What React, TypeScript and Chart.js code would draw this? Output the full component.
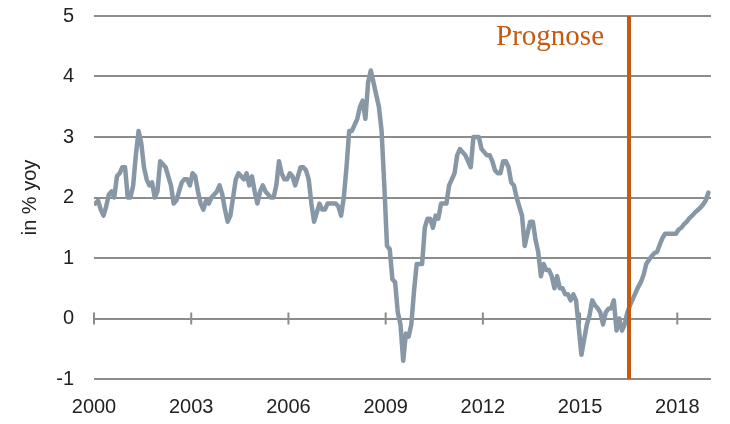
import { useEffect, useRef } from "react";
import { Chart, registerables } from "chart.js";

Chart.register(...registerables);

// Monthly inflation, in % yoy, Jan 2000 .. Dec 2018 (forecast from mid-2016)
const START_YEAR = 2000;
const inflation2000s = [
  1.9, 1.95, 1.8, 1.7, 1.85, 2.05, 2.1, 2.0, 2.35, 2.4, 2.5, 2.5,
  2.0, 2.0, 2.2, 2.7, 3.1, 2.9, 2.5, 2.3, 2.2, 2.25, 2.0, 2.1,
  2.6, 2.55, 2.5, 2.35, 2.2, 1.9, 1.95, 2.1, 2.25, 2.3, 2.3, 2.2,
  2.4, 2.35, 2.1, 1.9, 1.8, 1.95, 1.9, 2.0, 2.05, 2.1, 2.2, 2.05,
  1.8, 1.6, 1.7, 2.0, 2.3, 2.4, 2.35, 2.3, 2.4, 2.2, 2.35, 2.1,
  1.9, 2.1, 2.2, 2.1, 2.05, 2.0, 2.0, 2.2, 2.6, 2.4, 2.3, 2.3,
];
const inflationCrisis = [
  2.4, 2.35, 2.2, 2.35, 2.5, 2.5, 2.45, 2.3, 1.9, 1.6, 1.75, 1.9,
  1.8, 1.8, 1.9, 1.9, 1.9, 1.9, 1.85, 1.7, 2.0, 2.5, 3.1, 3.1,
  3.2, 3.3, 3.5, 3.6, 3.3, 3.9, 4.1, 3.9, 3.7, 3.5, 3.1, 2.2,
  1.2, 1.15, 0.65, 0.6, 0.1, -0.1, -0.7, -0.25, -0.3, -0.1, 0.45, 0.9,
  0.9, 0.9, 1.5, 1.65, 1.65, 1.5, 1.7, 1.65, 1.9, 1.9, 1.9, 2.2,
  2.3, 2.4, 2.7, 2.8, 2.75, 2.7, 2.6, 2.5, 3.0, 3.0, 3.0, 2.8,
];
const inflationRecent = [
  2.75, 2.7, 2.7, 2.6, 2.45, 2.4, 2.4, 2.6, 2.6, 2.5, 2.25, 2.2,
  2.0, 1.85, 1.7, 1.2, 1.4, 1.6, 1.6, 1.3, 1.1, 0.7, 0.9, 0.8,
  0.8, 0.7, 0.5, 0.7, 0.5, 0.5, 0.4, 0.4, 0.3, 0.4, 0.3, -0.15,
  -0.6, -0.35, -0.1, 0.05, 0.3, 0.22, 0.17, 0.1, -0.1, 0.1, 0.16, 0.17,
  0.3, -0.2, 0.0, -0.2, -0.1, 0.1, 0.22, 0.32, 0.42, 0.52, 0.6, 0.72,
  0.9, 0.97, 1.03, 1.08, 1.1, 1.22, 1.33, 1.4, 1.4, 1.4, 1.4, 1.4,
  1.47, 1.5, 1.56, 1.6, 1.66, 1.7, 1.75, 1.79, 1.83, 1.88, 1.95, 2.08,
];
const inflation = [...inflation2000s, ...inflationCrisis, ...inflationRecent];

const xTickYears = [2000, 2003, 2006, 2009, 2012, 2015, 2018];
const X_MIN = 2000;
const X_MAX = 2019.04;
const Y_MIN = -1;
const Y_MAX = 5;
const forecastStart = 2016.51;
const forecastLabel = "Prognose";
const yAxisTitle = "in % yoy";

const GRID = "#8c8c8c";
const LINE = "#8797a5";
const ORANGE = "#c55a11";
const TEXT = "#222222";
const SANS = "'Liberation Sans', Arial, sans-serif";

export default function App() {
  const ref = useRef<HTMLCanvasElement | null>(null);

  useEffect(() => {
    document.body.style.margin = "0";
    const canvas = ref.current;
    if (!canvas) return;

    const points = inflation.map((v, i) => ({ x: START_YEAR + (i + 0.5) / 12, y: v }));

    const zeroAxisTicks = {
      id: "zeroAxisTicks",
      beforeDatasetsDraw(chart: any) {
        const { ctx, scales } = chart;
        const x = scales.x;
        const y = scales.y;
        const py = y.getPixelForValue(0);
        ctx.save();
        ctx.strokeStyle = GRID;
        ctx.lineWidth = 2;
        for (const yr of xTickYears) {
          const px = x.getPixelForValue(yr);
          ctx.beginPath();
          ctx.moveTo(px, py - 6);
          ctx.lineTo(px, py + 6);
          ctx.stroke();
        }
        ctx.restore();
      },
    };

    const prognoseLabel = {
      id: "prognoseLabel",
      afterDatasetsDraw(chart: any) {
        const { ctx, scales } = chart;
        const px = scales.x.getPixelForValue(forecastStart) - 25;
        const py = scales.y.getPixelForValue(4.65);
        ctx.save();
        ctx.font = "29px 'Liberation Serif', 'Times New Roman', serif";
        ctx.fillStyle = ORANGE;
        ctx.textAlign = "right";
        ctx.textBaseline = "middle";
        ctx.fillText(forecastLabel, px, py);
        ctx.restore();
      },
    };

    const chart = new Chart(canvas, {
      type: "line",
      data: {
        datasets: [
          {
            data: points,
            borderColor: LINE,
            borderWidth: 4.5,
            pointRadius: 0,
            tension: 0,
            borderJoinStyle: "round",
            borderCapStyle: "round",
            order: 2,
          },
          {
            data: [
              { x: forecastStart, y: Y_MIN },
              { x: forecastStart, y: Y_MAX },
            ],
            borderColor: ORANGE,
            borderWidth: 4,
            pointRadius: 0,
            order: 1,
          },
        ],
      },
      options: {
        responsive: false,
        animation: false,
        layout: { padding: { top: 16, right: 19, left: 0, bottom: 0 } },
        plugins: { legend: { display: false }, tooltip: { enabled: false } },
        scales: {
          x: {
            type: "linear",
            min: X_MIN,
            max: X_MAX,
            grid: { display: false, drawTicks: false },
            border: { display: false },
            afterBuildTicks: (s: any) => {
              s.ticks = xTickYears.map((v) => ({ value: v }));
            },
            ticks: {
              font: { family: SANS, size: 20 },
              color: TEXT,
              padding: 16,
              maxRotation: 0,
              autoSkip: false,
              callback: (v: any) => String(v),
            },
            afterFit: (s: any) => {
              s.height = 45;
              s.paddingLeft = 0;
              s.paddingRight = 0;
            },
          },
          y: {
            min: Y_MIN,
            max: Y_MAX,
            grid: { color: GRID, lineWidth: 2, drawTicks: false },
            border: { display: false },
            ticks: {
              stepSize: 1,
              font: { family: SANS, size: 20 },
              color: TEXT,
              padding: 20,
            },
            title: {
              display: true,
              text: yAxisTitle,
              font: { family: SANS, size: 20 },
              color: TEXT,
              padding: { top: 18, bottom: 0 },
            },
            afterFit: (s: any) => {
              s.width = 94;
              s.paddingTop = 0;
              s.paddingBottom = 0;
            },
          },
        },
      },
      plugins: [zeroAxisTicks, prognoseLabel],
    } as any);

    return () => chart.destroy();
  }, []);

  return (
    <div style={{ width: 730, height: 424 }}>
      <canvas ref={ref} width={730} height={424} style={{ display: "block" }} />
    </div>
  );
}
